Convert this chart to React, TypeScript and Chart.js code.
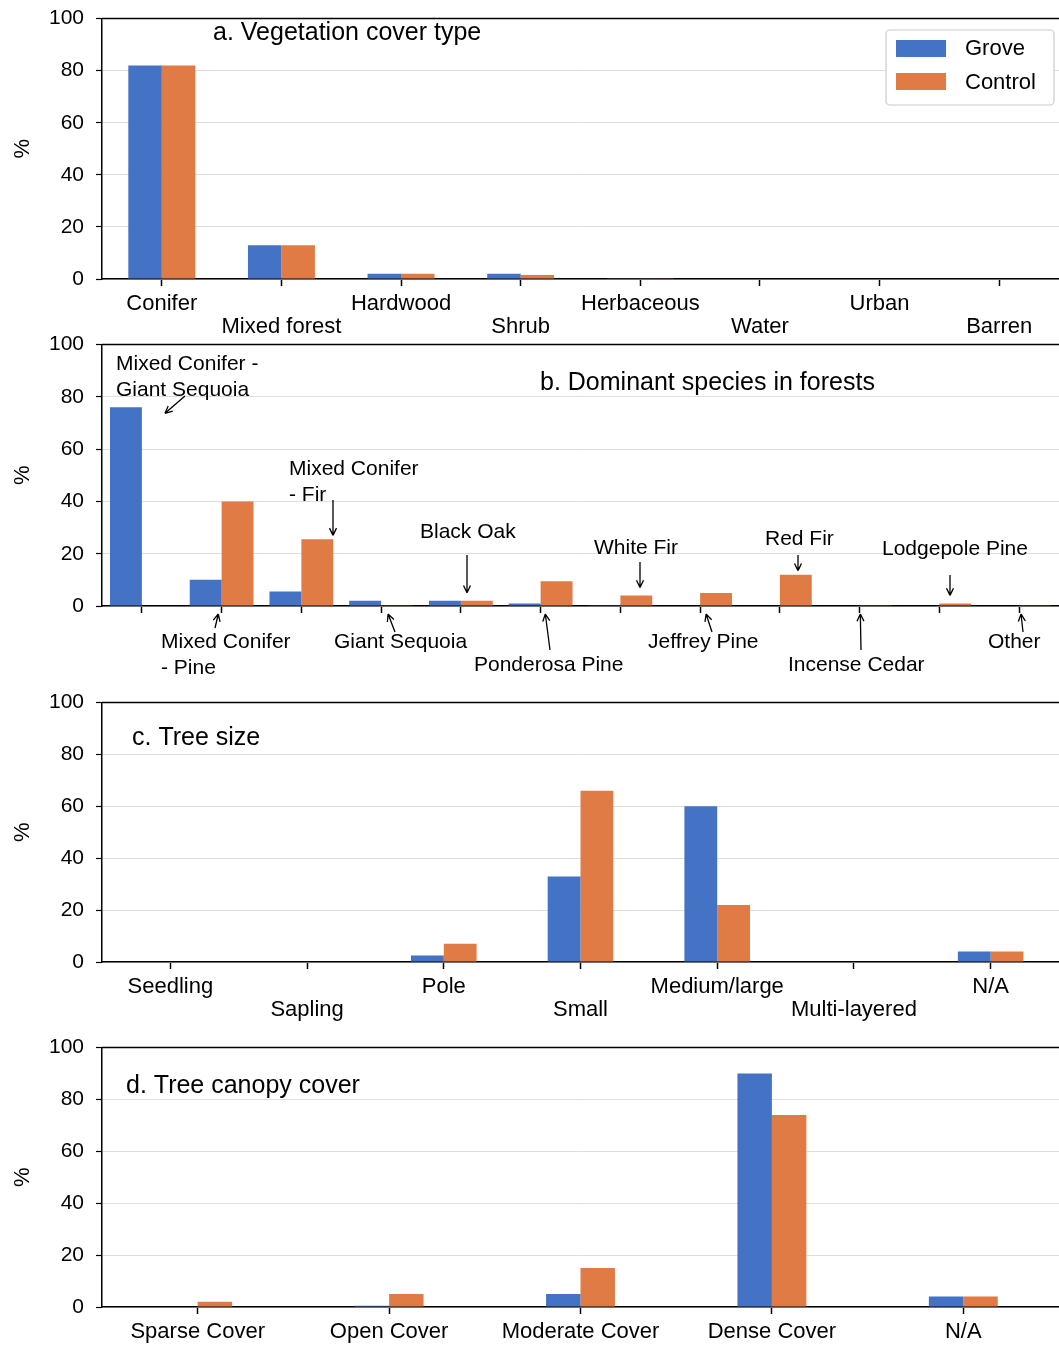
import React, { useRef, useEffect } from "react";
import { Chart, registerables } from "chart.js";

Chart.register(...registerables);

const BLUE = "#4472C4";
const ORANGE = "#E07B45";
const FONT = "'Liberation Sans', Arial, sans-serif";

const coverTypes = ["Conifer", "Mixed forest", "Hardwood", "Shrub", "Herbaceous", "Water", "Urban", "Barren"];
const coverGrove = [82, 13, 2, 2, 0.3, 0, 0, 0];
const coverControl = [82, 13, 2, 1.5, 0.3, 0, 0, 0];

const species = [
  "Mixed Conifer - Giant Sequoia", "Mixed Conifer - Pine", "Mixed Conifer - Fir", "Giant Sequoia",
  "Black Oak", "Ponderosa Pine", "White Fir", "Jeffrey Pine", "Red Fir", "Incense Cedar",
  "Lodgepole Pine", "Other",
];
const speciesGrove = [76, 10, 5.5, 2, 2, 1, 0.3, 0, 0, 0, 0, 0];
const speciesControl = [0, 40, 25.5, 0.3, 2, 9.5, 4, 5, 12, 0.3, 1, 0.3];

const sizes = ["Seedling", "Sapling", "Pole", "Small", "Medium/large", "Multi-layered", "N/A"];
const sizeGrove = [0, 0.2, 2.5, 33, 60, 0, 4];
const sizeControl = [0, 0.2, 7, 66, 22, 0, 4];

const canopy = ["Sparse Cover", "Open Cover", "Moderate Cover", "Dense Cover", "N/A"];
const canopyGrove = [0, 0.5, 5, 90, 4];
const canopyControl = [2, 5, 15, 74, 4];

// annotations for panel b: category index, bar (0 grove, 1 control, -2 above tallest, -1 axis), label lines, text pos, arrow tail
const speciesNotes = [
  { i: 0, s: 0, lines: ["Mixed Conifer -", "Giant Sequoia"], tx: 116, ty: 34, ax: 185, ay: 66 },
  { i: 1, s: -1, lines: ["Mixed Conifer", "- Pine"], tx: 161, ty: 312, ax: 215, ay: 298 },
  { i: 2, s: 1, lines: ["Mixed Conifer", "- Fir"], tx: 289, ty: 139, ax: 333, ay: 170 },
  { i: 3, s: -1, lines: ["Giant Sequoia"], tx: 334, ty: 312, ax: 395, ay: 302 },
  { i: 4, s: -2, lines: ["Black Oak"], tx: 420, ty: 202, ax: 467, ay: 225 },
  { i: 5, s: -1, lines: ["Ponderosa Pine"], tx: 474, ty: 335, ax: 550, ay: 320 },
  { i: 6, s: -2, lines: ["White Fir"], tx: 594, ty: 218, ax: 640, ay: 232 },
  { i: 7, s: -1, lines: ["Jeffrey Pine"], tx: 648, ty: 312, ax: 712, ay: 302 },
  { i: 8, s: 1, lines: ["Red Fir"], tx: 765, ty: 209, ax: 798, ay: 225 },
  { i: 9, s: -1, lines: ["Incense Cedar"], tx: 788, ty: 335, ax: 861, ay: 320 },
  { i: 10, s: -2, lines: ["Lodgepole Pine"], tx: 882, ty: 219, ax: 950, ay: 245 },
  { i: 11, s: -1, lines: ["Other"], tx: 988, ty: 312, ax: 1023, ay: 302 },
];

type PanelProps = {
  top: number;
  shift: number;
  height: number;
  padTop: number;
  labels: string[];
  grove: number[];
  control: number[];
  catPct: number;
  mode: "stagger" | "none" | "single";
  title: string;
  titleX: number;
  titleY: number;
  legend?: boolean;
  notes?: typeof speciesNotes;
};

function arrow(ctx: CanvasRenderingContext2D, x1: number, y1: number, x2: number, y2: number) {
  const a = Math.atan2(y2 - y1, x2 - x1);
  ctx.beginPath();
  ctx.moveTo(x1, y1);
  ctx.lineTo(x2, y2);
  ctx.moveTo(x2, y2);
  ctx.lineTo(x2 - 8 * Math.cos(a - 0.45), y2 - 8 * Math.sin(a - 0.45));
  ctx.moveTo(x2, y2);
  ctx.lineTo(x2 - 8 * Math.cos(a + 0.45), y2 - 8 * Math.sin(a + 0.45));
  ctx.stroke();
}

const Panel: React.FC<PanelProps> = (p) => {
  const ref = useRef<HTMLCanvasElement>(null);
  useEffect(() => {
    if (!ref.current) return;
    const plotH = 261;
    const d = p.shift;
    const xH = p.height - p.padTop - plotH - (p.legend ? 6 : 11);
    const deco = {
      id: "deco",
      afterDraw(chart: any) {
        const ctx = chart.ctx;
        const ca = chart.chartArea;
        ctx.save();
        ctx.strokeStyle = "#000";
        ctx.lineWidth = 1.5;
        ctx.beginPath();
        ctx.moveTo(ca.left, ca.top);
        ctx.lineTo(ca.right, ca.top);
        ctx.stroke();
        ctx.fillStyle = "#000";
        ctx.font = `25px ${FONT}`;
        ctx.textBaseline = "middle";
        ctx.textAlign = "left";
        ctx.fillText(p.title, p.titleX, p.titleY + d);
        if (p.legend) {
          ctx.strokeStyle = "#ccc";
          ctx.lineWidth = 1.2;
          ctx.fillStyle = "#fff";
          ctx.beginPath();
          ctx.roundRect(886, 30 + d, 168, 75, 4);
          ctx.fill();
          ctx.stroke();
          ctx.fillStyle = BLUE;
          ctx.fillRect(896, 40 + d, 50, 17);
          ctx.fillStyle = ORANGE;
          ctx.fillRect(896, 73 + d, 50, 17);
          ctx.fillStyle = "#000";
          ctx.font = `22px ${FONT}`;
          ctx.fillText("Grove", 965, 49 + d);
          ctx.fillText("Control", 965, 83 + d);
        }
        if (p.notes) {
          const xs = chart.scales.x;
          const ys = chart.scales.y;
          ctx.font = `21px ${FONT}`;
          ctx.strokeStyle = "#000";
          ctx.lineWidth = 1.3;
          p.notes.forEach((n) => {
            ctx.fillStyle = "#000";
            n.lines.forEach((l, k) => ctx.fillText(l, n.tx, n.ty + d + k * 26));
            const cx = xs.getPixelForValue(n.i);
            const ay = n.ay + d;
            let hx = n.ax;
            let hy = ys.bottom + 8;
            if (n.s === 0) {
              hx = n.ax - 20;
              hy = ys.getPixelForValue(p.grove[n.i]) + 6;
            } else if (n.s === 1) {
              hy = ys.getPixelForValue(p.control[n.i]) - 4;
            } else if (n.s === -2) {
              hy = ys.getPixelForValue(Math.max(p.grove[n.i], p.control[n.i])) - 8;
            } else {
              hx = n.ax + (cx - n.ax) * 0.5;
            }
            arrow(ctx, n.ax, ay, hx, hy);
          });
        }
        ctx.restore();
      },
    };
    const chart = new Chart(ref.current, {
      type: "bar",
      data: {
        labels: p.labels,
        datasets: [
          { label: "Grove", data: p.grove, backgroundColor: BLUE },
          { label: "Control", data: p.control, backgroundColor: ORANGE },
        ],
      },
      options: {
        animation: false,
        responsive: false,
        maintainAspectRatio: false,
        layout: { padding: { top: p.padTop - 6, left: 10, right: 0, bottom: 0 } },
        datasets: { bar: { categoryPercentage: p.catPct, barPercentage: 1 } },
        plugins: { legend: { display: false }, tooltip: { enabled: false } },
        scales: {
          x: {
            afterFit: (s: any) => { s.height = xH; s.paddingLeft = 0; s.paddingRight = 0; },
            grid: { offset: false, drawOnChartArea: false, color: "#000", tickLength: 7, tickWidth: 1.5 },
            border: { color: "#000", width: 1.5 },
            ticks: {
              autoSkip: false,
              maxRotation: 0,
              color: "#000",
              padding: 6,
              font: { family: FONT, size: 22, lineHeight: 1.05 },
              callback: (_v: any, i: number) => {
                if (p.mode === "none") return "";
                if (p.mode === "stagger" && i % 2 === 1) return ["", p.labels[i]];
                return p.labels[i];
              },
            },
          },
          y: {
            min: 0,
            max: 100,
            afterFit: (s: any) => { s.width = 92; },
            grid: { color: "#dedede", tickColor: "#000", tickLength: 6, tickWidth: 1.2 },
            border: { color: "#000", width: 1.5 },
            ticks: {
              stepSize: 10,
              color: "#000",
              padding: 12,
              font: { family: FONT, size: 21 },
              callback: (v: any) => (v % 20 === 0 ? v : ""),
            },
            title: { display: true, text: "%", color: "#000", font: { family: FONT, size: 22 }, padding: { top: 0, bottom: 8 } },
          },
        },
      },
      plugins: [deco],
    });
    return () => chart.destroy();
  }, []);
  return (
    <canvas
      ref={ref}
      width={1059}
      height={p.height}
      style={{ position: "absolute", left: 0, top: p.top - p.shift, width: 1059, height: p.height }}
    />
  );
};

export default function App() {
  return (
    <div style={{ position: "absolute", left: 0, top: 0, width: 1059, height: 1350, background: "#fff", overflow: "hidden" }}>
      <Panel top={0} shift={6} height={345} padTop={18} labels={coverTypes} grove={coverGrove} control={coverControl}
        catPct={0.56} mode="stagger" title="a. Vegetation cover type" titleX={213} titleY={33} legend />
      <Panel top={330} shift={10} height={358} padTop={14} labels={species} grove={speciesGrove} control={speciesControl}
        catPct={0.8} mode="none" title="b. Dominant species in forests" titleX={540} titleY={53} notes={speciesNotes} />
      <Panel top={690} shift={12} height={345} padTop={12} labels={sizes} grove={sizeGrove} control={sizeControl}
        catPct={0.48} mode="stagger" title="c. Tree size" titleX={132} titleY={48} />
      <Panel top={1035} shift={12} height={327} padTop={12} labels={canopy} grove={canopyGrove} control={canopyControl}
        catPct={0.36} mode="single" title="d. Tree canopy cover" titleX={126} titleY={51} />
    </div>
  );
}
